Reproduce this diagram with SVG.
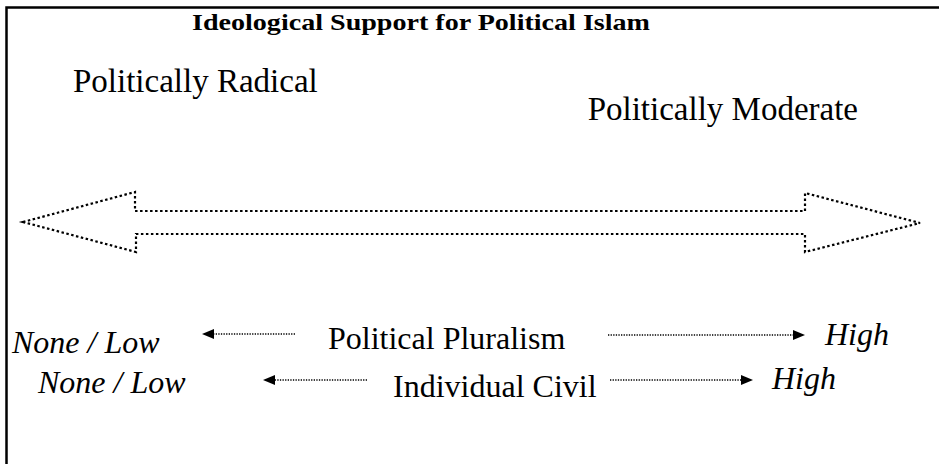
<svg xmlns="http://www.w3.org/2000/svg" width="939" height="464" viewBox="0 0 939 464">
  <defs>
    <style>
      .frame { stroke: #000; stroke-width: 2.5; fill: none; }
      .title { font-family: "Liberation Serif", serif; font-weight: bold; font-size: 24px; fill: #000; }
      .label { font-family: "Liberation Serif", serif; font-size: 32px; fill: #000; }
      .pole { font-family: "Liberation Serif", serif; font-size: 33px; fill: #000; }
      .scale { font-family: "Liberation Serif", serif; font-style: italic; font-size: 32px; fill: #000; }
      .bigarrow { fill: none; stroke: #000; stroke-width: 2.2; stroke-dasharray: 2.5 2.5; }
      .dotline { stroke: #000; stroke-width: 1.5; stroke-dasharray: 1.3 1.3; fill: none; }
    </style>
    <marker id="head" viewBox="0 0 12 10" refX="0" refY="5" markerWidth="12" markerHeight="10" markerUnits="userSpaceOnUse" orient="auto">
      <path d="M0,0 L12,5 L0,10 Z" fill="#000"/>
    </marker>
  </defs>

  <rect width="939" height="464" fill="#fff"/>

  <!-- open frame: top and left rules only -->
  <path class="frame" d="M6.5,464 V7.5 H939"/>

  <g id="title">
    <text class="title" x="192" y="30" textLength="458" lengthAdjust="spacingAndGlyphs">Ideological Support for Political Islam</text>
  </g>

  <g id="radical">
    <text class="pole" x="73" y="92">Politically Radical</text>
  </g>
  <g id="moderate">
    <text class="pole" x="858" y="120" text-anchor="end">Politically Moderate</text>
  </g>

  <!-- double-headed spectrum arrow -->
  <g id="spectrum">
    <path class="bigarrow" d="M23,222 L135,192 L135,211 L805,211 L805,193 L920,223 L805,252 L805,234 L136,234 L136,252 Z"/>
  </g>

  <g id="pluralism">
    <text class="scale" x="12" y="353">None / Low</text>
    <text class="label" x="328" y="349">Political Pluralism</text>
    <text class="scale" x="825" y="345">High</text>
  </g>
  <g id="civil">
    <text class="scale" x="38" y="393">None / Low</text>
    <text class="label" x="393" y="397">Individual Civil</text>
    <text class="scale" x="772" y="389">High</text>
  </g>

  <g id="connectors">
    <line class="dotline" x1="295" y1="334" x2="214" y2="334" marker-end="url(#head)"/>
    <line class="dotline" x1="608" y1="335" x2="793" y2="335" marker-end="url(#head)"/>
    <line class="dotline" x1="367" y1="380" x2="275" y2="380" marker-end="url(#head)"/>
    <line class="dotline" x1="610" y1="380" x2="741" y2="380" marker-end="url(#head)"/>
  </g>
</svg>
